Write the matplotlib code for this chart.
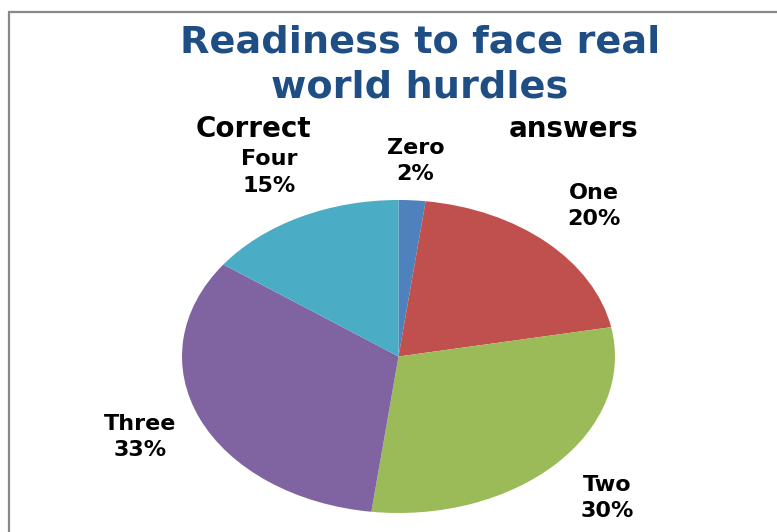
import numpy as np
import matplotlib
matplotlib.use("Agg")
import matplotlib.pyplot as plt
from matplotlib.patches import Rectangle

# data
categories = ["Zero", "One", "Two", "Three", "Four"]
shares = [2, 20, 30, 33, 15]
colors = ["#4F81BD", "#C0504D", "#9BBB59", "#8064A2", "#4BACC6"]

plt.rcParams['font.family'] = ['DejaVu Sans']

W, H = 777, 532
fig = plt.figure(figsize=(W / 100, H / 100), dpi=100)
fig.patch.set_facecolor('white')

# chart frame (cut off on the right and bottom like the screenshot)
fig.patches.append(Rectangle((9 / W, -0.1), 1.2, (H - 12) / H + 0.1,
                             transform=fig.transFigure, fill=False,
                             edgecolor='#888888', linewidth=1.6))

# pie drawn as an ellipse: x -1..1 -> 182..615 px, y -1..1 -> 513..200 px
ax = fig.add_axes([182 / W, (H - 513) / H, (615 - 182) / W, (513 - 200) / H])
wedges, _ = ax.pie(shares, colors=colors, startangle=90, counterclock=False,
                   wedgeprops=dict(linewidth=0))
ax.set_aspect('auto')
ax.set_xlim(-1, 1)
ax.set_ylim(-1, 1)
ax.axis('off')

dist = [1.25, 1.32, 1.32, 1.30, 1.32]
for w, name, val, d in zip(wedges, categories, shares, dist):
    th = np.deg2rad((w.theta1 + w.theta2) / 2)
    ax.text(d * np.cos(th), d * np.sin(th), "%s\n%d%%" % (name, val),
            ha='center', va='center', fontsize=16, fontweight='bold',
            color='black', linespacing=1.4, clip_on=False)

fig.text(420 / W, 1 - 65 / H, "Readiness to face real\nworld hurdles",
         ha='center', va='center', fontsize=27.5, fontweight='bold',
         color='#1F4E85', linespacing=1.3)
fig.text(253 / W, 1 - 129 / H, "Correct", ha='center', va='center',
         fontsize=20, fontweight='bold')
fig.text(574 / W, 1 - 129 / H, "answers", ha='center', va='center',
         fontsize=20, fontweight='bold')

fig.savefig("out.png", dpi=100)
